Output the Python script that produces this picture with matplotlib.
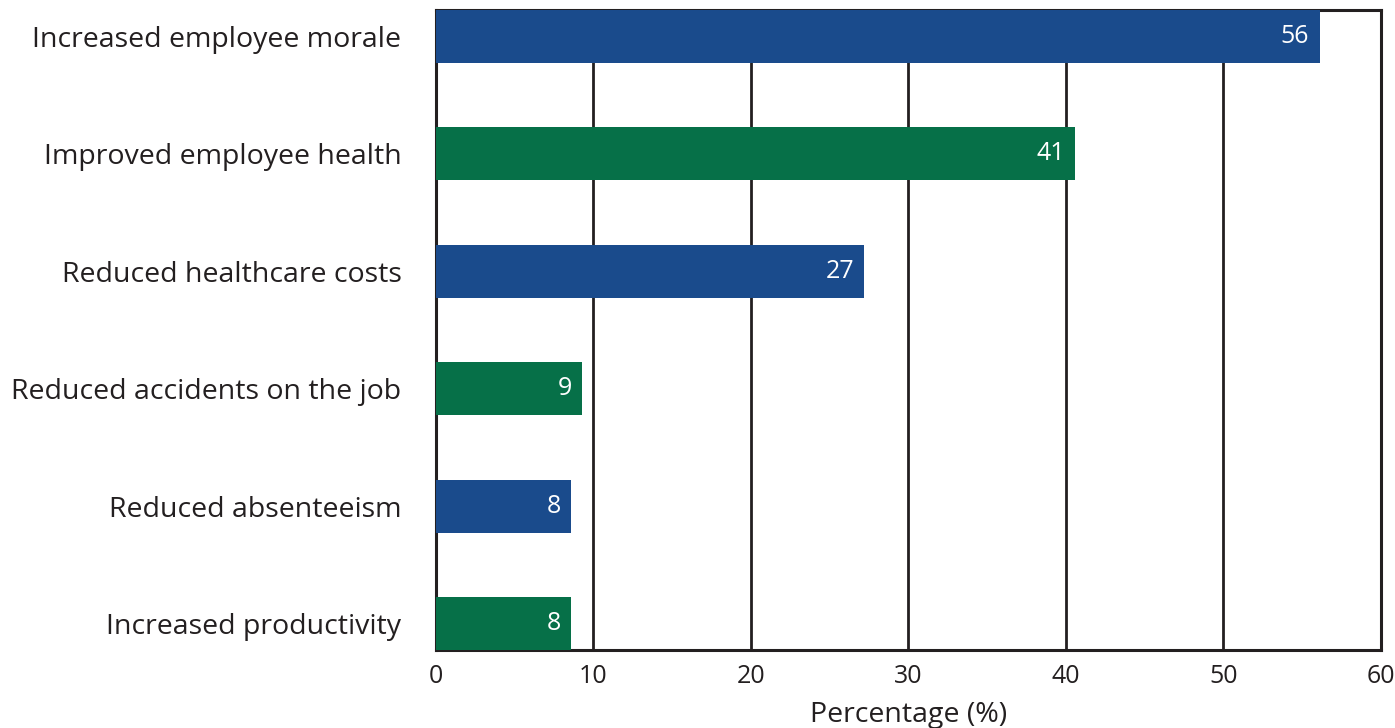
import matplotlib
matplotlib.use("Agg")
import matplotlib.pyplot as plt

categories = ["Increased employee morale", "Improved employee health", "Reduced healthcare costs",
              "Reduced accidents on the job", "Reduced absenteeism", "Increased productivity"]
values = [56.1, 40.6, 27.2, 9.3, 8.6, 8.6]
value_labels = ["56", "41", "27", "9", "8", "8"]
bar_colors = ["#1a4b8c", "#067048", "#1a4b8c", "#067048", "#1a4b8c", "#067048"]
xticks = [0, 10, 20, 30, 40, 50, 60]

plt.rcParams['font.family'] = ['Open Sans', 'DejaVu Sans']

fig = plt.figure(figsize=(13.95, 7.28), dpi=100)
ax = fig.add_axes([435.5/1395, 1-650/728, (1381-435.5)/1395, 640/728])

h = 0.45
y = list(range(len(categories)))
ax.barh(y, values, height=h, color=bar_colors, zorder=3)
for yi, v, lab in zip(y, values, value_labels):
    ax.text(v - 0.65, yi, lab, color="white", ha="right", va="center", fontsize=18, zorder=4)

ax.set_ylim(len(categories) - 1 + h/2, -h/2)
ax.set_xlim(0, 60)
ax.set_yticks(y)
ax.set_yticklabels(categories, fontsize=20.5)
ax.set_xticks(xticks)
ax.set_xticklabels([str(t) for t in xticks], fontsize=18)
ax.tick_params(axis='y', length=0, pad=24.5, colors="#231f20")
ax.tick_params(axis='x', length=0, pad=10, colors="#231f20")
ax.xaxis.grid(True, color="#231f20", linewidth=2, zorder=1)
for s in ax.spines.values():
    s.set_color("#231f20")
    s.set_linewidth(2.2)
ax.set_xlabel("Percentage (%)", fontsize=20.5, color="#231f20", labelpad=9)

fig.savefig("out.png", dpi=100)
